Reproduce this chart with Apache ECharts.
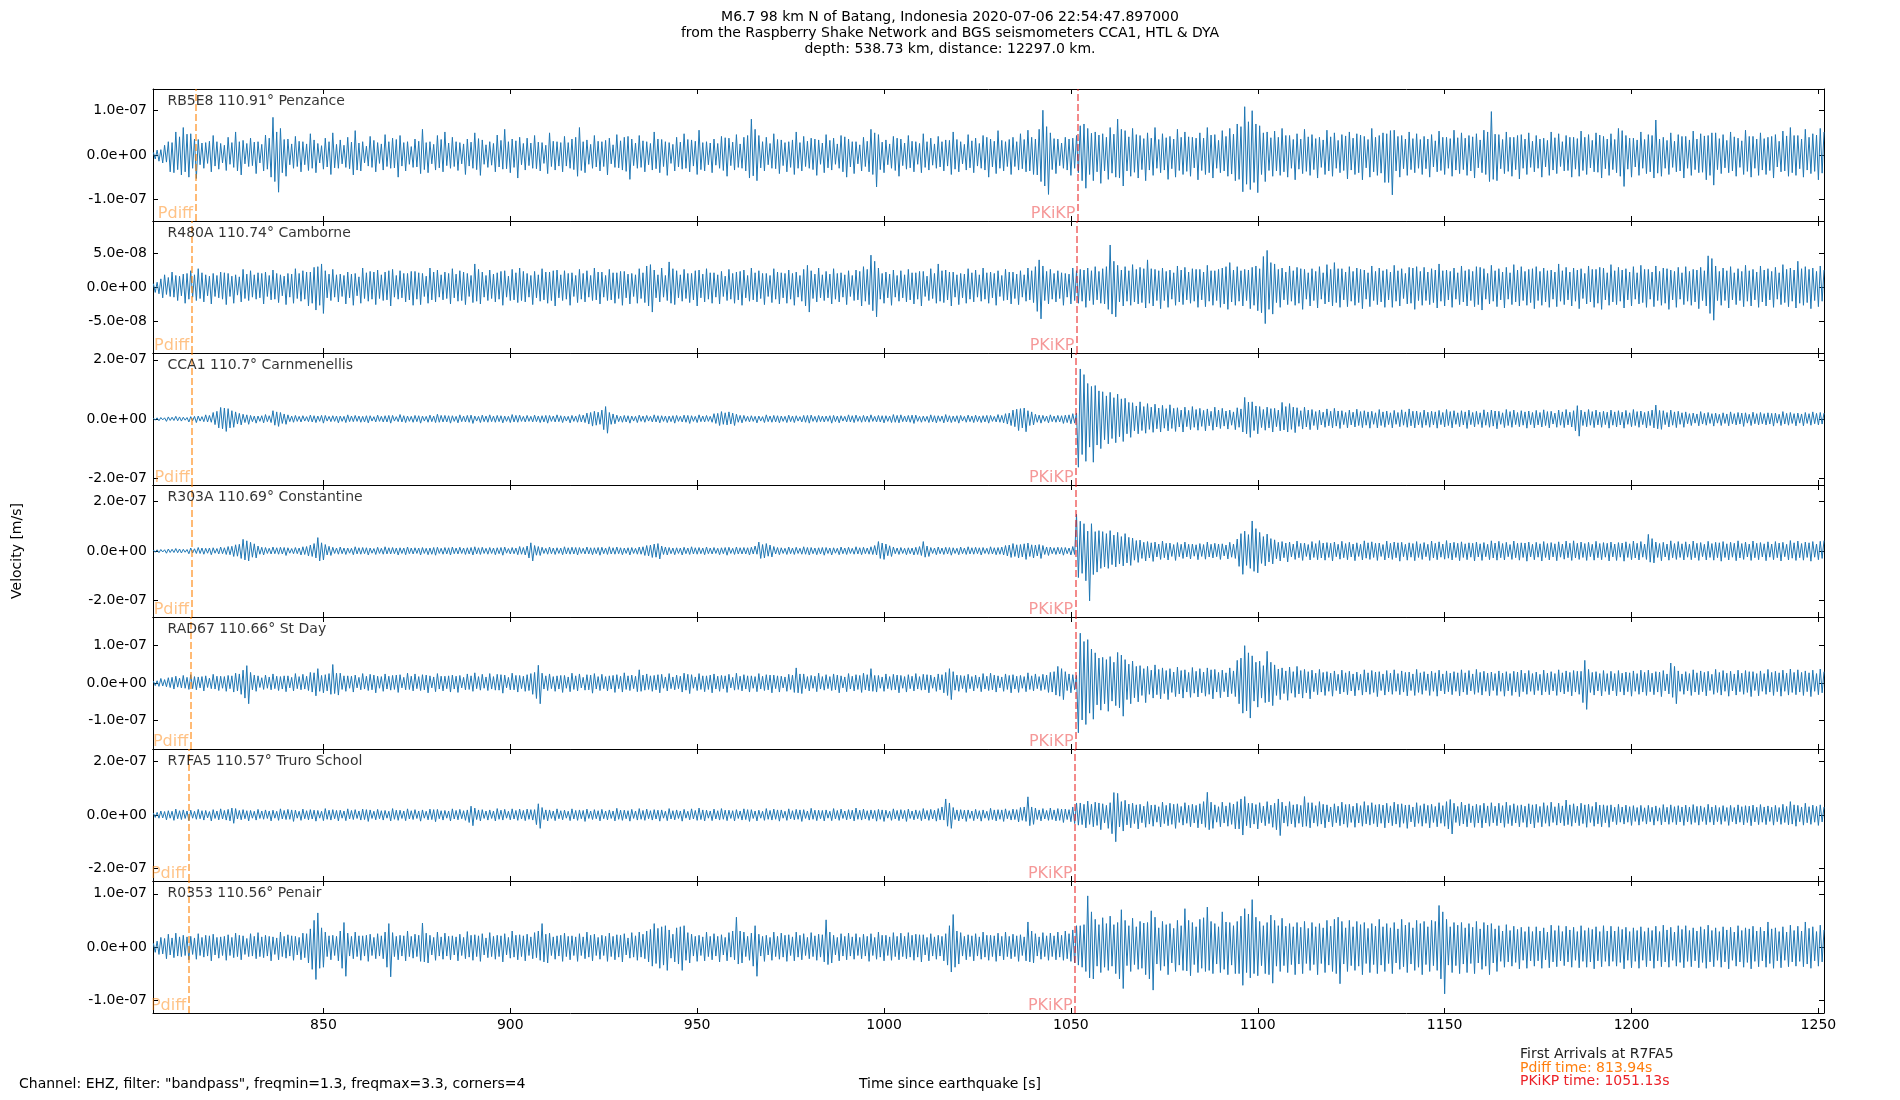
<!DOCTYPE html>
<html><head><meta charset="utf-8">
<script src="https://cdn.jsdelivr.net/npm/echarts@6/dist/echarts.min.js"></script>
<style>html,body{margin:0;padding:0;background:#fff}#c{width:1900px;height:1100px}</style>
</head><body><div id="c"></div>
<script>
// ---------------- data ----------------
const stations = ['RB5E8 110.91° Penzance','R480A 110.74° Camborne','CCA1 110.7° Carnmenellis','R303A 110.69° Constantine','RAD67 110.66° St Day','R7FA5 110.57° Truro School','R0353 110.56° Penair'];
const pdiffTimes = [815.8, 814.8, 814.9, 814.7, 814.5, 813.94, 813.94];
const pkikpTimes = [1051.9, 1051.6, 1051.4, 1051.3, 1051.4, 1051.13, 1051.13];
const yLimits = [1.49e-7, 9.74e-8, 2.23e-7, 2.66e-7, 1.75e-7, 2.47e-7, 1.24e-7];
const yTicks = [[-1e-7,0,1e-7],[-5e-8,0,5e-8],[-2e-7,0,2e-7],[-2e-7,0,2e-7],[-1e-7,0,1e-7],[-2e-7,0,2e-7],[-1e-7,0,1e-7]];
const xTicks = [850,900,950,1000,1050,1100,1150,1200,1250];
const xRange = [804.4, 1251.5];
const sampleStart = 804.5, sampleStep = 0.5;   // seconds since earthquake
const unit = 1e-9;                              // trace values below are in nm/s
const arrivalStation = 'R7FA5';
const titleLines = ['M6.7 98 km N of Batang, Indonesia 2020-07-06 22:54:47.897000','from the Raspberry Shake Network and BGS seismometers CCA1, HTL & DYA','depth: 538.73 km, distance: 12297.0 km.'];
const footerText = 'Channel: EHZ, filter: "bandpass", freqmin=1.3, freqmax=3.3, corners=4';

const rb5e8 = [
6,-9,11,-14,12,-18,22,-16,30,-38,28,-40,52,-33,41,-45,62,-38,47,-50,
48,-30,36,-53,35,-22,27,-30,28,-19,31,-38,44,-25,30,-32,26,-18,22,-35,
40,-21,28,-28,52,-36,30,-45,33,-20,26,-26,38,-24,29,-42,30,-18,24,-36,
45,-32,38,-50,85,-60,52,-84,60,-40,35,-48,36,-22,25,-30,42,-26,31,-38,
30,-22,25,-35,48,-30,34,-40,26,-18,21,-32,38,-27,30,-44,50,-29,24,-30,
34,-20,22,-28,40,-31,29,-45,55,-34,27,-36,30,-18,20,-25,42,-28,33,-38,
28,-19,25,-34,46,-26,30,-30,38,-29,35,-50,44,-25,28,-36,30,-21,19,-28,
36,-27,31,-42,58,-33,28,-40,30,-20,24,-34,44,-29,35,-38,52,-24,27,-30,
40,-26,30,-35,28,-20,25,-44,36,-25,29,-30,50,-33,37,-46,34,-21,23,-28,
30,-23,26,-38,45,-27,33,-32,58,-31,30,-40,36,-28,32,-52,40,-22,26,-34,
38,-24,27,-30,44,-31,29,-36,28,-19,22,-42,50,-26,31,-34,30,-25,28,-38,
42,-25,28,-30,36,-33,40,-48,62,-35,30,-40,34,-21,24,-30,44,-27,31,-36,
30,-26,33,-45,38,-20,23,-28,46,-29,32,-34,40,-37,42,-55,36,-24,27,-30,
44,-28,32,-38,30,-22,26,-34,52,-31,36,-40,35,-26,30,-46,28,-19,24,-36,
40,-27,29,-32,48,-30,35,-38,34,-25,31,-44,56,-33,28,-36,30,-22,27,-40,
36,-23,26,-30,42,-35,39,-48,38,-24,29,-34,46,-28,25,-30,40,-36,44,-52,
81,-47,58,-58,44,-29,30,-36,40,-22,26,-30,48,-31,35,-42,34,-24,28,-38,
30,-28,34,-44,52,-30,28,-36,42,-26,31,-30,38,-33,36,-46,34,-21,27,-40,
46,-29,33,-34,38,-21,25,-30,44,-38,41,-50,36,-27,30,-42,30,-20,23,-36,
40,-26,31,-38,58,-44,50,-72,46,-33,29,-40,34,-22,25,-30,42,-35,38,-48,
36,-24,27,-32,44,-29,31,-38,30,-21,26,-40,48,-28,30,-34,38,-23,25,-30,
42,-27,30,-36,34,-25,33,-44,52,-32,35,-38,30,-20,24,-34,46,-29,32,-40,
38,-25,26,-30,44,-34,40,-50,36,-27,31,-42,55,-30,33,-36,30,-26,35,-44,
40,-26,30,-34,48,-31,35,-38,56,-36,40,-44,36,-45,58,-60,101,-70,64,-89,
50,-33,37,-42,36,-24,27,-30,40,-34,36,-46,38,-30,44,-40,66,-58,70,-75,
60,-44,49,-58,52,-38,45,-64,48,-36,40,-55,62,-41,47,-50,81,-52,58,-70,
55,-36,41,-48,60,-39,46,-52,44,-33,37,-58,50,-34,38,-46,62,-30,35,-40,
48,-34,39,-55,42,-31,36,-50,58,-35,40,-44,52,-37,41,-48,40,-29,38,-56,
50,-35,38,-44,62,-40,45,-52,46,-30,33,-40,55,-36,42,-48,60,-43,47,-58,
70,-55,64,-83,109,-66,75,-78,100,-62,70,-85,66,-44,50,-60,52,-35,39,-48,
54,-36,40,-46,60,-38,44,-50,44,-30,35,-56,48,-32,36,-42,58,-37,41,-46,
46,-33,37,-52,40,-28,34,-44,56,-36,41,-48,50,-30,33,-40,46,-35,43,-54,
52,-34,38,-44,48,-40,45,-56,42,-29,35,-50,60,-38,40,-46,44,-41,50,-62,
48,-62,55,-90,56,-36,42,-50,44,-31,36,-46,52,-33,37,-40,48,-30,35,-44,
42,-31,36,-50,46,-27,32,-38,54,-35,40,-44,40,-30,37,-48,56,-34,39,-42,
50,-33,38,-46,44,-36,41,-52,48,-29,34,-40,56,-44,52,-60,98,-55,47,-58,
46,-31,35,-42,52,-37,40,-48,40,-33,44,-54,46,-30,36,-44,50,-28,31,-38,
44,-30,36,-50,38,-27,33,-46,52,-34,39,-42,48,-26,30,-36,44,-35,40,-50,
40,-32,37,-48,54,-35,40,-44,46,-29,33,-38,50,-39,45,-52,42,-31,36,-46,
48,-33,35,-40,60,-48,55,-71,44,-32,38,-50,38,-27,34,-46,52,-30,35,-42,
46,-38,44,-52,79,-41,36,-48,40,-30,33,-44,50,-28,31,-38,46,-36,42,-52,
42,-30,34,-46,54,-33,36,-40,48,-39,43,-56,44,-46,50,-68,50,-33,37,-42,
46,-29,33,-40,52,-36,41,-48,38,-28,32,-44,56,-37,42,-50,42,-30,36,-46,
50,-34,37,-44,40,-35,42,-52,46,-27,31,-38,54,-36,43,-48,62,-40,44,-46,
44,-31,36,-50,58,-34,40,-42,48,-37,45,-56,60,-41,52];

const r480a = [
5,-8,7,-10,12,-16,18,-11,14,-14,22,-15,17,-20,16,-13,19,-24,20,-18,
24,-15,18,-20,27,-17,21,-22,18,-13,16,-25,20,-14,17,-16,22,-18,21,-26,
20,-14,16,-24,18,-12,15,-22,26,-17,19,-20,24,-15,18,-18,21,-16,20,-25,
22,-14,17,-19,25,-18,20,-23,18,-13,16,-26,20,-15,19,-24,27,-17,20,-21,
24,-18,22,-28,22,-24,29,-34,30,-27,34,-39,24,-16,19,-20,26,-15,18,-22,
19,-14,17,-25,22,-16,19,-27,20,-13,15,-24,28,-17,21,-21,23,-18,22,-26,
25,-17,18,-20,22,-19,24,-28,26,-15,17,-18,24,-16,20,-22,20,-19,23,-27,
23,-18,21,-26,20,-14,16,-24,28,-19,22,-22,25,-15,18,-19,22,-17,20,-25,
27,-16,19,-21,24,-20,22,-26,20,-14,17,-23,34,-21,26,-25,22,-15,17,-20,
25,-17,19,-22,21,-18,23,-27,24,-15,16,-20,26,-19,21,-23,28,-20,23,-22,
20,-15,17,-26,23,-16,18,-21,27,-19,22,-24,22,-20,24,-28,25,-16,18,-20,
24,-18,20,-27,21,-14,17,-23,26,-18,20,-22,24,-15,17,-20,28,-19,22,-25,
22,-15,17,-20,26,-19,21,-24,21,-17,23,-27,23,-16,19,-25,20,-14,18,-24,
27,-17,21,-23,31,-28,33,-37,25,-16,18,-22,28,-15,17,-20,37,-24,27,-26,
24,-16,18,-21,26,-17,20,-23,20,-19,24,-28,25,-16,19,-22,27,-18,21,-24,
21,-15,18,-25,23,-14,16,-20,26,-18,20,-24,22,-19,23,-27,25,-16,17,-21,
28,-19,21,-22,24,-17,20,-26,20,-14,17,-23,27,-18,22,-25,21,-16,20,-24,
25,-18,20,-27,22,-15,17,-21,26,-28,32,-37,24,-17,19,-22,28,-16,18,-20,
23,-16,19,-25,27,-18,20,-22,21,-15,18,-26,24,-14,17,-20,25,-19,23,-28,
30,-21,26,-26,47,-35,38,-44,28,-18,20,-24,22,-16,19,-27,25,-15,17,-21,
24,-16,18,-22,26,-19,21,-25,21,-18,23,-28,23,-14,16,-20,27,-17,20,-24,
34,-21,24,-23,25,-19,22,-28,22,-15,18,-26,20,-16,19,-24,27,-18,21,-22,
25,-15,18,-21,28,-18,21,-24,22,-16,20,-27,24,-14,17,-20,26,-19,22,-25,
22,-17,19,-26,24,-15,18,-21,28,-19,24,-23,30,-36,40,-47,31,-20,23,-25,
26,-18,20,-22,24,-17,21,-27,20,-15,19,-25,28,-20,24,-24,26,-21,25,-30,
28,-20,24,-26,30,-19,23,-24,27,-25,30,-33,62,-40,38,-44,32,-22,25,-28,
30,-21,24,-27,33,-22,26,-25,29,-23,27,-31,40,-24,27,-28,26,-20,24,-32,
28,-20,23,-30,25,-18,21,-27,31,-22,25,-26,29,-19,22,-24,27,-21,26,-30,
26,-19,22,-29,32,-21,24,-27,24,-20,26,-30,28,-25,30,-33,36,-22,25,-27,
30,-21,24,-28,26,-20,25,-32,29,-27,31,-35,27,-38,45,-54,54,-33,36,-40,
34,-23,26,-30,28,-19,22,-26,31,-21,24,-27,29,-24,27,-33,26,-18,21,-28,
27,-20,23,-31,30,-18,21,-25,33,-22,26,-28,36,-23,27,-30,27,-19,22,-29,
30,-21,23,-27,28,-23,26,-32,25,-18,21,-29,31,-20,23,-26,28,-22,24,-30,
26,-19,22,-30,32,-21,24,-28,27,-17,20,-25,29,-24,28,-33,30,-20,23,-27,
29,-20,22,-26,27,-23,25,-31,34,-21,24,-28,25,-19,23,-30,28,-18,21,-26,
31,-22,24,-28,26,-20,23,-29,30,-26,29,-34,27,-18,20,-25,32,-21,24,-29,
27,-19,22,-31,29,-18,21,-26,33,-22,25,-28,30,-20,23,-27,26,-23,27,-32,
30,-20,23,-27,28,-22,24,-30,25,-18,22,-29,34,-21,24,-26,29,-19,22,-28,
28,-21,25,-32,27,-17,20,-25,31,-22,26,-30,26,-24,29,-33,28,-19,21,-27,
33,-22,24,-26,29,-21,25,-31,27,-19,22,-28,30,-18,21,-25,32,-23,26,-30,
26,-18,22,-29,31,-20,23,-27,28,-24,27,-33,25,-19,23,-30,29,-18,21,-26,
30,-21,23,-27,26,-22,25,-32,29,-20,24,-28,46,-39,42,-49,31,-20,23,-27,
28,-20,24,-31,30,-19,21,-26,27,-20,23,-29,32,-21,24,-28,26,-19,22,-30,
31,-22,25,-28,27,-19,23,-30,29,-18,21,-26,33,-23,26,-29,28,-21,25,-31,
38,-24,27,-27,30,-23,26,-32,28,-20,23,-29,31,-21,25];

const cca1 = [
3,-4,4,-6,5,-3,4,-8,7,-5,6,-5,9,-6,7,-7,6,-4,5,-10,
8,-6,9,-12,10,-7,8,-9,14,-10,12,-11,22,-19,26,-30,39,-33,37,-42,
35,-30,28,-28,24,-17,19,-20,16,-12,14,-18,12,-9,10,-14,10,-8,11,-13,
15,-9,11,-12,28,-21,24,-25,22,-15,17,-18,14,-9,10,-11,12,-8,9,-10,
11,-7,8,-9,13,-10,11,-12,10,-8,12,-14,12,-7,9,-9,11,-8,10,-13,
10,-8,9,-12,14,-9,10,-9,12,-8,10,-11,9,-10,11,-13,11,-7,8,-10,
13,-8,9,-10,11,-10,12,-14,12,-7,8,-9,15,-10,11,-12,10,-8,9,-11,
12,-9,11,-14,10,-7,9,-11,13,-9,10,-12,16,-11,12,-10,12,-10,11,-14,
11,-8,9,-13,14,-9,10,-10,12,-11,13,-15,10,-7,9,-12,13,-9,10,-11,
14,-9,10,-11,12,-9,11,-13,10,-8,9,-12,15,-10,12,-11,13,-8,9,-10,
12,-8,9,-10,13,-9,10,-12,11,-10,12,-14,12,-8,10,-10,14,-9,11,-12,
10,-7,9,-13,12,-8,10,-11,15,-10,13,-12,20,-17,22,-24,26,-21,23,-18,
30,-36,42,-48,22,-18,17,-16,13,-9,10,-11,12,-10,11,-14,10,-7,9,-12,
13,-8,10,-11,12,-7,9,-10,14,-10,11,-13,11,-8,10,-12,10,-9,11,-14,
12,-8,9,-10,13,-11,12,-15,11,-8,9,-12,14,-9,10,-10,12,-8,9,-11,
18,-15,19,-22,25,-18,21,-20,24,-17,20,-22,16,-11,12,-13,12,-8,9,-10,
11,-8,9,-13,10,-7,8,-12,14,-9,10,-11,12,-10,11,-13,10,-8,9,-12,
13,-9,10,-12,11,-7,8,-10,12,-11,12,-14,13,-8,9,-11,12,-9,10,-10,
10,-8,11,-14,12,-9,10,-13,11,-7,9,-10,14,-10,11,-12,13,-8,9,-11,
12,-9,10,-11,14,-8,9,-10,12,-10,11,-13,11,-8,10,-12,15,-11,12,-13,
14,-9,10,-10,12,-11,13,-15,13,-8,9,-11,10,-8,9,-12,14,-10,11,-13,
11,-8,10,-13,15,-10,11,-12,10,-9,11,-14,12,-7,9,-11,13,-9,10,-12,
13,-9,10,-12,11,-10,12,-14,12,-8,9,-10,15,-11,12,-13,18,-17,20,-22,
30,-26,33,-39,35,-30,37,-43,28,-22,24,-20,16,-11,13,-14,12,-8,10,-13,
14,-9,10,-11,12,-10,11,-15,13,-12,14,-16,18,-14,20,-163,169,-120,150,-143,
120,-95,110,-146,113,-88,95,-100,92,-70,78,-84,90,-66,72,-80,84,-60,68,-76,
70,-50,56,-62,55,-40,44,-50,58,-39,42,-48,52,-35,40,-45,50,-33,37,-44,
46,-31,35,-40,48,-32,36,-42,38,-27,30,-44,40,-26,29,-36,42,-28,32,-38,
36,-25,29,-40,34,-23,26,-38,40,-27,30,-32,36,-24,27,-34,30,-21,24,-36,
38,-28,34,-44,73,-50,57,-62,58,-39,44,-50,42,-29,32,-38,40,-30,35,-44,
36,-26,30,-40,56,-37,42,-44,52,-35,40,-46,38,-25,28,-34,40,-27,30,-36,
32,-22,25,-36,30,-20,23,-28,34,-23,26,-30,36,-24,27,-32,28,-19,22,-30,
30,-20,23,-27,33,-22,25,-29,28,-21,24,-31,26,-18,21,-30,32,-22,24,-28,
27,-19,21,-30,29,-18,22,-26,31,-21,24,-28,34,-23,26,-30,27,-20,22,-29,
30,-21,23,-28,26,-20,24,-31,29,-19,22,-27,32,-22,25,-30,28,-18,21,-26,
28,-20,24,-32,30,-19,22,-27,26,-18,21,-29,31,-21,23,-28,30,-24,27,-33,
26,-18,21,-29,32,-22,25,-28,30,-19,22,-26,28,-21,24,-31,27,-19,22,-30,
29,-20,22,-27,31,-22,25,-30,26,-17,20,-28,30,-21,24,-29,32,-20,23,-27,
28,-40,45,-58,30,-22,24,-26,32,-21,25,-29,30,-20,23,-28,26,-19,23,-31,
30,-21,24,-27,28,-20,23,-31,29,-18,21,-26,32,-22,25,-28,27,-19,22,-30,
26,-22,30,-30,47,-33,29,-35,28,-19,22,-27,30,-21,24,-29,26,-18,21,-28,
24,-16,18,-22,20,-14,17,-23,25,-17,19,-21,22,-15,18,-24,20,-14,16,-22,
21,-15,17,-23,24,-16,18,-20,22,-17,20,-25,21,-14,16,-22,23,-16,18,-20,
22,-16,18,-20,21,-17,19,-24,20,-14,16,-22,25,-17,19,-21,22,-15,18,-23,
20,-14,17,-23,22,-15,18,-21,24,-16,19,-20,22,-17,20];

const r303a = [
4,-5,5,-7,6,-4,5,-9,8,-6,7,-6,10,-7,8,-8,7,-5,6,-11,
12,-8,9,-10,14,-10,12,-13,11,-9,12,-15,13,-9,10,-12,16,-11,13,-14,
18,-15,19,-22,25,-21,27,-30,47,-36,41,-40,35,-25,29,-28,20,-13,15,-16,
14,-10,11,-12,16,-11,13,-13,15,-12,14,-18,13,-9,10,-11,14,-11,12,-16,
17,-14,18,-20,24,-22,30,-28,54,-40,33,-36,26,-16,19,-18,15,-10,12,-13,
16,-11,12,-14,12,-9,11,-15,17,-12,13,-13,14,-11,13,-16,12,-9,10,-14,
15,-10,11,-13,17,-12,13,-12,14,-11,12,-16,13,-10,12,-15,16,-11,12,-12,
13,-10,12,-16,14,-10,11,-15,12,-13,14,-17,15,-10,11,-13,14,-12,13,-16,
16,-11,12,-12,15,-10,12,-14,13,-12,14,-16,17,-12,13,-14,15,-10,11,-13,
14,-10,12,-15,13,-11,14,-17,16,-9,10,-12,14,-11,12,-15,18,-13,14,-16,
20,-28,33,-40,22,-17,18,-18,15,-10,11,-13,16,-11,12,-14,13,-10,12,-15,
17,-12,13,-13,15,-12,14,-16,14,-10,11,-12,16,-12,13,-15,13,-11,14,-17,
15,-11,12,-14,17,-12,13,-13,16,-11,13,-15,12,-10,13,-16,14,-10,11,-13,
16,-13,17,-18,22,-20,24,-26,28,-25,30,-32,20,-14,16,-16,14,-11,12,-15,
13,-10,12,-16,15,-11,12,-14,17,-12,13,-13,14,-11,12,-15,16,-11,12,-12,
14,-10,11,-15,13,-11,14,-17,15,-10,11,-14,16,-12,13,-12,14,-12,13,-16,
15,-12,20,-13,36,-30,26,-28,30,-21,24,-24,18,-12,14,-15,13,-10,11,-14,
16,-11,12,-14,15,-10,11,-13,17,-13,14,-16,14,-11,12,-15,13,-12,14,-17,
14,-10,12,-16,13,-9,11,-15,16,-11,12,-14,15,-10,11,-13,17,-12,13,-15,
15,-11,12,-13,17,-14,22,-16,38,-30,32,-34,28,-19,21,-22,16,-11,12,-14,
14,-10,11,-15,13,-11,12,-16,15,-14,18,-18,38,-25,20,-22,14,-10,12,-15,
16,-11,12,-14,15,-12,14,-17,13,-10,11,-15,16,-11,12,-14,17,-12,13,-13,
15,-11,13,-16,14,-10,11,-13,17,-12,13,-15,14,-13,16,-16,22,-20,24,-26,
30,-22,25,-28,26,-24,29,-34,32,-22,25,-28,24,-20,26,-30,22,-14,16,-18,
16,-11,13,-14,15,-12,14,-17,14,-11,12,-16,18,-14,148,-107,120,-90,110,-120,
80,-201,110,-95,78,-85,82,-70,78,-64,70,-70,82,-55,64,-64,75,-52,58,-60,
70,-48,55,-58,52,-37,42,-46,44,-30,35,-40,38,-28,33,-42,36,-24,28,-34,
40,-27,31,-36,32,-22,26,-38,34,-23,27,-30,36,-24,27,-32,28,-21,25,-35,
30,-22,26,-33,36,-24,27,-28,31,-23,28,-34,29,-20,24,-32,35,-25,28,-30,
48,-62,70,-94,80,-58,66,-70,121,-82,90,-88,75,-50,58,-60,68,-44,50,-52,
45,-31,35,-40,38,-27,32,-44,36,-24,28,-34,40,-27,31,-38,32,-22,26,-36,
38,-26,30,-35,42,-28,32,-37,34,-26,31,-40,36,-23,27,-33,39,-27,30,-35,
35,-24,28,-39,33,-22,27,-36,41,-29,33,-34,37,-26,31,-38,32,-22,26,-36,
40,-28,31,-34,36,-27,33,-41,35,-23,27,-37,33,-25,30,-39,38,-26,29,-34,
34,-23,27,-38,40,-28,31,-35,37,-25,28,-33,42,-29,32,-36,35,-26,31,-39,
37,-26,29,-35,33,-25,31,-40,36,-24,29,-38,34,-23,27,-35,41,-28,32,-37,
39,-27,30,-36,35,-23,26,-34,40,-27,31,-37,33,-26,32,-41,36,-24,27,-35,
35,-25,29,-40,38,-26,30,-36,34,-24,29,-39,37,-25,28,-33,40,-27,31,-38,
41,-28,31,-34,36,-26,30,-38,35,-23,27,-37,39,-27,30,-35,34,-25,31,-40,
36,-24,28,-38,34,-25,32,-41,37,-26,29,-35,40,-28,31,-36,38,-25,28,-34,
67,-45,50,-48,36,-26,30,-39,35,-24,28,-37,41,-27,30,-34,38,-26,29,-36,
37,-25,28,-35,40,-27,31,-38,34,-23,27,-36,39,-26,30,-37,35,-27,33,-41,
38,-26,29,-36,35,-25,31,-39,41,-28,30,-34,36,-24,28,-38,40,-27,31,-35,
34,-24,29,-39,37,-25,28,-35,38,-27,32,-40,35,-23,27,-36,42,-29,33,-38,
40,-27,30,-37,36,-26,33,-41,38,-25,28,-35,39,-30,42];

const rad67 = [
5,-7,6,-9,12,-8,9,-10,14,-12,15,-16,18,-11,13,-13,20,-14,15,-17,
22,-15,17,-18,16,-13,17,-21,19,-12,13,-15,23,-16,18,-20,18,-14,17,-22,
20,-15,19,-24,26,-21,24,-30,34,-40,46,-55,28,-18,21,-22,19,-12,14,-17,
21,-14,16,-18,24,-15,18,-20,17,-16,19,-23,19,-13,15,-21,25,-15,17,-18,
23,-16,18,-20,28,-24,27,-34,38,-22,20,-26,22,-21,25,-30,49,-28,26,-32,
26,-17,19,-22,19,-14,18,-24,21,-13,15,-18,25,-16,18,-20,23,-18,21,-26,
18,-14,17,-22,24,-16,18,-19,20,-17,21,-25,22,-13,15,-18,26,-17,18,-21,
24,-15,17,-20,22,-18,21,-26,19,-13,16,-23,25,-16,18,-21,18,-15,19,-24,
21,-16,18,-25,20,-13,15,-18,24,-17,19,-22,27,-15,17,-19,23,-14,16,-20,
25,-16,17,-19,23,-19,22,-27,21,-13,15,-18,26,-18,20,-24,20,-15,18,-22,
22,-20,25,-30,28,-41,47,-55,26,-16,19,-20,24,-15,17,-22,19,-16,20,-25,
20,-14,16,-23,26,-17,19,-21,24,-13,15,-19,22,-18,21,-27,25,-16,17,-20,
23,-15,17,-21,19,-16,20,-25,22,-15,18,-24,27,-17,19,-20,21,-15,18,-23,
35,-22,21,-19,24,-17,19,-22,20,-18,22,-26,23,-14,16,-21,25,-15,16,-18,
21,-15,18,-24,26,-19,23,-28,22,-14,16,-20,25,-17,19,-23,19,-17,21,-26,
24,-16,18,-22,20,-15,19,-25,23,-13,15,-19,26,-17,18,-21,22,-16,19,-24,
19,-14,17,-23,25,-16,18,-20,22,-18,21,-26,21,-15,19,-24,18,-13,16,-22,
23,-17,21,-25,40,-26,24,-28,24,-15,17,-21,20,-14,18,-23,26,-16,17,-19,
22,-15,17,-20,24,-18,21,-26,19,-13,16,-23,25,-16,18,-21,22,-17,20,-25,
26,-18,22,-21,38,-22,20,-24,20,-14,16,-22,24,-15,17,-19,23,-18,21,-26,
20,-14,17,-24,22,-15,18,-21,25,-16,17,-19,23,-18,22,-26,21,-14,16,-22,
24,-18,22,-26,28,-33,38,-44,30,-19,21,-22,20,-15,19,-25,23,-15,17,-21,
21,-14,16,-23,25,-16,18,-20,26,-18,21,-24,19,-13,16,-22,24,-17,20,-26,
22,-16,18,-25,20,-14,17,-23,27,-17,19,-21,24,-15,17,-20,23,-17,21,-25,
28,-24,30,-32,44,-35,38,-44,30,-20,24,-26,22,-18,20,-132,132,-98,110,-110,
115,-80,90,-96,80,-58,66,-72,68,-55,62,-75,70,-48,55,-60,81,-66,74,-88,
62,-44,50,-55,58,-39,44,-50,46,-33,38,-52,44,-30,34,-40,48,-31,36,-42,
40,-28,33,-44,38,-25,29,-36,42,-29,33,-40,35,-24,28,-38,41,-27,31,-37,
38,-26,29,-35,40,-30,35,-42,36,-24,28,-39,34,-23,27,-37,40,-28,32,-36,
60,-55,66,-80,99,-74,80,-93,72,-48,55,-64,58,-40,46,-52,84,-50,55,-60,
48,-33,37,-44,40,-28,32,-46,42,-27,30,-38,44,-29,33,-40,36,-26,30,-42,
34,-23,26,-31,36,-24,28,-33,30,-22,26,-35,32,-20,23,-29,34,-24,27,-31,
31,-21,24,-34,29,-19,23,-32,35,-24,27,-30,33,-25,29,-36,30,-20,24,-32,
33,-23,26,-30,35,-22,25,-31,32,-24,28,-34,29,-20,24,-33,36,-25,27,-30,
30,-20,24,-33,31,-22,27,-35,34,-21,24,-29,32,-23,26,-31,30,-22,27,-34,
35,-24,27,-31,33,-21,24,-30,36,-25,28,-32,31,-22,26,-34,29,-20,25,-33,
32,-22,26,-35,30,-21,25,-33,31,-24,29,-36,34,-23,26,-30,33,-22,25,-31,
29,-20,23,-32,34,-23,26,-31,30,-21,25,-33,35,-24,27,-29,32,-23,28,-34,
33,-24,31,-30,31,-52,60,-70,36,-25,28,-32,30,-21,25,-34,33,-22,25,-31,
31,-21,25,-34,33,-23,26,-32,29,-23,27,-35,32,-22,25,-30,34,-24,28,-33,
34,-23,26,-31,30,-24,29,-36,33,-21,24,-29,53,-38,44,-55,32,-22,24,-30,
30,-21,25,-33,35,-24,27,-31,32,-23,28,-34,31,-20,23,-30,36,-25,28,-32,
33,-22,26,-35,31,-21,24,-32,34,-23,26,-30,33,-25,30,-36,30,-20,25,-34,
32,-22,25,-30,36,-24,28,-33,31,-23,27,-35,34,-22,26,-32,37,-25,28,-31,
35,-24,28,-33,32,-23,27,-36,34,-22,25,-31,37,-26,30];

const r7fa5 = [
7,-9,10,-12,15,-11,13,-18,16,-12,14,-20,22,-14,16,-17,19,-13,15,-21,
18,-12,14,-16,21,-14,16,-19,17,-11,13,-22,20,-13,15,-18,23,-15,17,-19,
21,-22,26,-31,24,-15,17,-18,20,-14,16,-22,17,-12,14,-19,21,-13,15,-16,
19,-13,15,-22,18,-12,14,-20,23,-15,17,-17,21,-16,19,-24,18,-12,14,-20,
22,-14,16,-18,20,-15,18,-23,17,-12,14,-21,24,-16,18,-19,20,-14,17,-22,
18,-12,15,-21,23,-15,17,-17,20,-13,15,-19,22,-17,20,-24,19,-13,14,-18,
21,-14,16,-19,17,-12,14,-22,24,-16,18,-20,18,-13,15,-21,23,-15,16,-17,
20,-13,15,-23,19,-12,14,-18,22,-17,20,-25,21,-14,16,-19,17,-12,15,-22,
23,-15,17,-18,21,-14,16,-20,19,-28,33,-40,26,-17,19,-22,20,-13,15,-19,
19,-13,15,-22,24,-16,18,-19,21,-12,14,-18,23,-15,17,-20,22,-15,17,-21,
22,-16,20,-19,20,-36,42,-50,28,-17,19,-22,19,-13,15,-21,23,-14,16,-18,
18,-12,14,-21,23,-15,17,-20,19,-14,17,-24,22,-13,15,-17,20,-14,16,-22,
21,-14,15,-18,19,-13,15,-22,25,-16,18,-20,18,-14,16,-23,21,-13,15,-19,
24,-16,17,-20,22,-14,16,-19,20,-15,18,-23,19,-12,14,-21,24,-15,16,-18,
19,-13,15,-23,21,-12,14,-18,23,-15,17,-20,26,-17,19,-22,18,-12,15,-21,
22,-15,16,-19,24,-16,18,-21,18,-13,16,-22,20,-13,15,-19,23,-17,20,-24,
20,-13,15,-22,18,-12,14,-20,24,-16,17,-19,22,-16,19,-23,19,-12,14,-20,
23,-15,16,-18,21,-16,19,-24,20,-13,15,-19,25,-16,18,-21,18,-14,17,-22,
19,-12,14,-21,24,-15,17,-20,22,-13,15,-18,20,-15,18,-22,26,-16,18,-19,
22,-15,16,-20,19,-14,17,-23,21,-16,19,-24,18,-12,14,-20,23,-15,17,-21,
20,-14,17,-24,22,-13,15,-18,19,-14,16,-21,24,-15,17,-20,21,-15,18,-23,
24,-18,30,-19,60,-42,45,-50,28,-17,19,-22,20,-15,18,-24,19,-13,15,-21,
21,-14,16,-23,19,-12,14,-20,25,-17,19,-22,20,-16,19,-24,23,-14,16,-19,
22,-17,20,-26,28,-20,30,-24,68,-40,30,-35,26,-17,19,-22,24,-15,17,-20,
26,-17,19,-22,24,-20,22,-28,22,-17,20,-25,30,-32,45,-38,45,-36,40,-48,
52,-35,40,-44,48,-39,45,-55,42,-30,36,-50,46,-70,84,-100,81,-45,50,-60,
55,-37,41,-48,44,-32,38,-52,40,-29,33,-46,50,-34,37,-42,38,-27,31,-45,
48,-32,36,-40,44,-35,40,-50,42,-28,32,-38,46,-31,36,-44,40,-30,36,-48,
42,-33,50,-46,85,-55,48,-50,38,-27,31,-44,48,-30,34,-42,46,-35,41,-52,
50,-52,60,-75,69,-40,44,-48,44,-34,39,-52,46,-29,33,-40,50,-32,37,-46,
44,-55,60,-77,48,-30,34,-42,50,-33,38,-46,40,-31,36,-44,69,-42,46,-48,
46,-30,35,-42,50,-34,40,-48,38,-26,30,-44,42,-29,33,-40,48,-34,39,-46,
40,-28,33,-46,44,-30,35,-42,50,-33,36,-38,46,-32,38,-44,40,-31,37,-48,
44,-30,34,-40,48,-34,40,-46,42,-31,37,-50,38,-26,30,-44,46,-31,35,-42,
42,-31,36,-48,40,-28,32,-44,46,-31,35,-42,50,-52,58,-71,44,-28,32,-40,
48,-33,37,-44,42,-29,34,-46,40,-30,36,-48,44,-30,34,-42,46,-29,33,-40,
44,-30,35,-46,48,-32,36,-40,42,-30,35,-44,38,-28,33,-46,42,-33,38,-48,
40,-28,32,-44,46,-31,35,-42,48,-28,31,-38,44,-30,34,-40,56,-36,38,-42,
42,-29,33,-40,44,-32,38,-46,40,-28,32,-42,48,-33,37,-44,38,-29,35,-46,
38,-25,29,-36,40,-27,30,-34,37,-27,31,-39,35,-24,28,-38,36,-24,27,-34,
36,-25,29,-38,34,-23,27,-37,39,-26,29,-35,38,-27,31,-36,35,-26,30,-39,
37,-26,30,-35,39,-28,32,-38,34,-24,28,-36,40,-27,30,-37,36,-25,28,-35,
35,-24,28,-39,36,-25,28,-34,38,-27,31,-37,35,-28,33,-40,37,-26,29,-36,
39,-27,30,-36,34,-24,29,-38,36,-25,28,-35,40,-28,32,-37,50,-34,38,-42,
36,-25,30,-38,44,-29,31,-35,37,-27,32,-39,38,-26,30];

const r0353 = [
7,-10,11,-14,18,-13,16,-22,24,-15,17,-20,26,-17,19,-18,22,-16,19,-24,
20,-14,17,-23,25,-16,18,-19,22,-17,21,-26,24,-15,18,-21,19,-16,20,-25,
23,-16,18,-20,26,-18,22,-24,21,-14,16,-18,25,-17,20,-22,27,-18,19,-20,
22,-17,20,-26,19,-14,17,-24,28,-18,20,-21,23,-17,21,-25,20,-15,18,-24,
26,-20,25,-30,34,-42,50,-61,64,-40,36,-38,28,-18,21,-24,22,-16,20,-26,
30,-40,46,-55,26,-17,20,-22,28,-18,21,-25,21,-17,22,-27,24,-16,18,-22,
25,-17,21,-22,28,-38,44,-56,27,-18,20,-24,22,-17,21,-26,30,-18,20,-21,
24,-18,22,-27,45,-28,26,-30,22,-15,18,-25,28,-17,19,-23,26,-17,20,-24,
21,-15,19,-26,24,-16,18,-22,29,-19,22,-25,23,-18,21,-27,25,-15,17,-20,
27,-18,20,-23,22,-18,21,-28,25,-15,18,-21,30,-19,22,-24,23,-18,21,-26,
24,-16,19,-22,27,-20,30,-25,44,-28,24,-30,26,-16,19,-23,21,-17,22,-27,
26,-18,20,-24,21,-16,19,-27,25,-16,19,-22,28,-19,22,-26,24,-16,18,-23,
22,-16,20,-27,26,-18,20,-24,23,-19,22,-28,25,-15,17,-21,27,-19,21,-25,
28,-19,24,-22,30,-28,33,-36,44,-31,35,-40,38,-34,40,-44,32,-21,24,-28,
36,-32,38,-44,40,-25,27,-30,24,-17,20,-27,22,-16,19,-26,28,-18,20,-24,
25,-17,20,-28,23,-15,18,-26,27,-19,30,-24,56,-32,30,-30,28,-18,20,-25,
26,-36,40,-55,24,-17,20,-27,22,-15,18,-25,28,-18,20,-23,26,-19,22,-27,
23,-16,19,-26,28,-19,22,-24,25,-16,18,-22,27,-18,21,-25,24,-19,23,-28,
51,-33,28,-30,22,-15,18,-26,25,-17,20,-24,26,-17,19,-23,25,-16,18,-22,
24,-17,20,-27,25,-16,18,-23,28,-19,22,-26,22,-16,19,-25,27,-18,20,-24,
26,-18,20,-22,27,-19,22,-25,24,-19,23,-28,23,-15,18,-26,25,-17,19,-23,
22,-17,20,-26,25,-34,40,-47,61,-38,30,-32,27,-17,20,-24,23,-18,21,-26,
25,-17,19,-23,28,-19,22,-25,22,-18,21,-27,26,-17,20,-24,28,-18,20,-22,
24,-18,21,-27,23,-16,19,-26,47,-28,30,-30,25,-17,19,-23,27,-18,21,-25,
26,-18,21,-24,28,-19,22,-25,30,-22,25,-27,32,-30,40,-34,40,-38,42,-46,
96,-58,66,-60,52,-36,42,-48,55,-38,44,-44,58,-36,42,-50,46,-60,70,-78,
50,-35,40,-46,54,-33,38,-42,48,-40,45,-52,46,-60,68,-81,56,-32,36,-44,
48,-36,42,-52,44,-30,35,-46,50,-34,40,-44,72,-45,50,-54,46,-33,38,-48,
52,-40,55,-46,75,-44,48,-50,44,-32,38,-48,66,-42,47,-52,46,-34,40,-50,
48,-50,58,-72,72,-48,62,-58,89,-50,56,-54,48,-35,40,-50,46,-52,60,-68,
50,-36,40,-46,54,-35,39,-48,44,-33,38,-52,46,-32,37,-50,48,-31,35,-44,
46,-33,38,-52,44,-31,36,-48,50,-34,39,-46,52,-50,56,-69,48,-32,36,-46,
50,-35,38,-44,48,-36,42,-52,46,-31,35,-48,44,-33,39,-50,52,-34,38,-46,
44,-31,36,-50,46,-30,34,-42,52,-37,41,-48,46,-32,36,-44,50,-38,44,-52,
48,-33,38,-46,50,-35,48,-44,78,-60,66,-88,52,-34,38,-48,46,-35,41,-50,
46,-32,36,-48,44,-31,37,-50,48,-30,34,-42,46,-36,41,-52,44,-30,34,-46,
40,-27,30,-38,42,-28,31,-36,39,-29,33,-41,37,-25,29,-40,38,-26,29,-36,
38,-26,30,-40,36,-24,28,-39,41,-28,31,-37,40,-26,29,-35,39,-28,32,-38,
37,-25,29,-39,40,-27,31,-38,36,-28,33,-41,38,-26,29,-37,40,-27,30,-36,
39,-27,30,-36,38,-29,33,-41,37,-25,29,-39,36,-27,31,-40,38,-25,29,-37,
36,-26,31,-40,39,-26,29,-37,41,-28,32,-38,37,-25,28,-36,40,-29,33,-39,
40,-27,31,-37,36,-26,30,-39,38,-29,33,-40,41,-28,31,-37,36,-25,29,-38,
38,-28,32,-41,37,-25,28,-36,40,-28,31,-38,36,-29,34,-41,39,-27,30,-37,
37,-26,30,-38,47,-31,34,-40,36,-26,29,-39,38,-25,28,-37,41,-28,31,-36,
39,-27,30,-37,47,-32,35,-40,38,-26,29,-36,41,-28,32];

const traces = [rb5e8, r480a, cca1, r303a, rad67, r7fa5, r0353];

// ---------------- layout / style ----------------
const FONT = 'DejaVu Sans';
const PLOT_LEFT = 153, PLOT_RIGHT = 76, PANEL_TOP = 89, PANEL_H = 132;
const TRACE_COLOR = '#1f77b4';
const PDIFF_LINE = 'rgba(255,128,0,0.6)';
const PKIKP_LINE = 'rgba(232,20,20,0.55)';

function fmtSci(v) {
  if (Math.abs(v) < 1e-20) return '0.0e+00';
  const s = v.toExponential(1);
  const m = s.match(/^(-?[\d.]+)e([+-])(\d+)$/);
  if (!m) return s;
  return m[1] + 'e' + m[2] + (m[3].length < 2 ? '0' + m[3] : m[3]);
}

const grids = [], xAxes = [], yAxes = [], series = [];
const n = stations.length;
for (let i = 0; i < n; i++) {
  grids.push({ left: PLOT_LEFT, right: PLOT_RIGHT, top: PANEL_TOP + PANEL_H * i, height: PANEL_H, containLabel: false });
  const baseX = {
    type: 'value', gridIndex: i, min: xRange[0], max: xRange[1],
    splitLine: { show: false },
    axisLine: { show: true, onZero: false, lineStyle: { color: '#000', width: 1 } },
    axisTick: { show: true, inside: true, length: 5, customValues: xTicks, lineStyle: { color: '#000', width: 1 } }
  };
  xAxes.push(Object.assign({}, baseX, {
    position: 'bottom',
    axisLabel: { show: i === n - 1, customValues: xTicks, margin: 5, color: '#000', fontFamily: FONT, fontSize: 14,
                 formatter: v => String(Math.round(v)) }
  }));
  xAxes.push(Object.assign({}, baseX, { position: 'top', axisLabel: { show: false } }));
  const baseY = {
    type: 'value', gridIndex: i, min: -yLimits[i], max: yLimits[i],
    splitLine: { show: false },
    axisLine: { show: true, onZero: false, lineStyle: { color: '#000', width: 1 } },
    axisTick: { show: true, inside: true, length: 5, customValues: yTicks[i], lineStyle: { color: '#000', width: 1 } }
  };
  yAxes.push(Object.assign({}, baseY, {
    position: 'left',
    axisLabel: { show: true, customValues: yTicks[i], margin: 6, formatter: fmtSci, color: '#000', fontFamily: FONT, fontSize: 14 }
  }));
  yAxes.push(Object.assign({}, baseY, { position: 'right', axisLabel: { show: false } }));

  series.push({
    type: 'line', name: stations[i], xAxisIndex: 2 * i, yAxisIndex: 2 * i,
    data: traces[i].map((v, k) => [sampleStart + k * sampleStep, v * unit]),
    showSymbol: false, symbol: 'none', animation: false, silent: true, clip: true,
    sampling: false,
    lineStyle: { color: TRACE_COLOR, width: 1 },
    z: 3,
    markLine: {
      silent: true, symbol: ['none', 'none'], animation: false,
      label: { show: false },
      data: [
        { xAxis: pdiffTimes[i], lineStyle: { color: PDIFF_LINE, type: [7, 3], width: 1.8 } },
        { xAxis: pkikpTimes[i], lineStyle: { color: PKIKP_LINE, type: [7, 3], width: 1.8 } }
      ]
    }
  });
  const phaseLabel = (t, txt, col) => ({
    type: 'scatter', xAxisIndex: 2 * i, yAxisIndex: 2 * i, clip: false, silent: true, animation: false,
    symbolSize: 1, itemStyle: { color: 'rgba(0,0,0,0)' },
    data: [[t, -yLimits[i]]],
    label: { show: true, formatter: txt, position: [-2, 1], align: 'right', verticalAlign: 'bottom',
             color: col, fontFamily: FONT, fontSize: 16 },
    z: 5
  });
  series.push(phaseLabel(pdiffTimes[i], 'Pdiff', PDIFF_LINE));
  series.push(phaseLabel(pkikpTimes[i], 'PKiKP', PKIKP_LINE));
  series.push({
    type: 'scatter', xAxisIndex: 2 * i, yAxisIndex: 2 * i, clip: false, silent: true, animation: false,
    symbolSize: 1, itemStyle: { color: 'rgba(0,0,0,0)' },
    data: [[xRange[0], yLimits[i]]],
    label: { show: true, formatter: stations[i], position: [15, 6], align: 'left', verticalAlign: 'top',
             color: '#000', fontFamily: FONT, fontSize: 14 },
    z: 5
  });
}

const ri = stations.findIndex(s => s.startsWith(arrivalStation));

const option = {
  animation: false,
  backgroundColor: '#fff',
  grid: grids, xAxis: xAxes, yAxis: yAxes, series: series,
  graphic: [
    { type: 'text', x: 950, y: 9, style: { text: titleLines.join('\n'), fill: '#000', font: '14px "DejaVu Sans"', textAlign: 'center', textVerticalAlign: 'top', lineHeight: 16 } },
    { type: 'text', left: 19, top: 1077, style: { text: footerText, fill: '#000', font: '14px "DejaVu Sans"' } },
    { type: 'text', x: 950, y: 1084, style: { text: 'Time since earthquake [s]', fill: '#000', font: '14px "DejaVu Sans"', textAlign: 'center', textVerticalAlign: 'middle' } },
    { type: 'text', x: 17, y: 551, rotation: Math.PI / 2, style: { text: 'Velocity [m/s]', fill: '#000', font: '14px "DejaVu Sans"', textAlign: 'center', textVerticalAlign: 'middle' } },
    { type: 'text', left: 1520, top: 1047, style: { text: 'First Arrivals at ' + arrivalStation, fill: '#222', font: '14px "DejaVu Sans"' } },
    { type: 'text', left: 1520, top: 1061, style: { text: 'Pdiff time: ' + pdiffTimes[ri].toFixed(2) + 's', fill: '#ff7f0e', font: '14px "DejaVu Sans"' } },
    { type: 'text', left: 1520, top: 1074, style: { text: 'PKiKP time: ' + pkikpTimes[ri].toFixed(2) + 's', fill: '#ec2228', font: '14px "DejaVu Sans"' } }
  ]
};

const chart = echarts.init(document.getElementById('c'), null, { renderer: 'canvas' });
chart.setOption(option);
</script>
</body></html>
